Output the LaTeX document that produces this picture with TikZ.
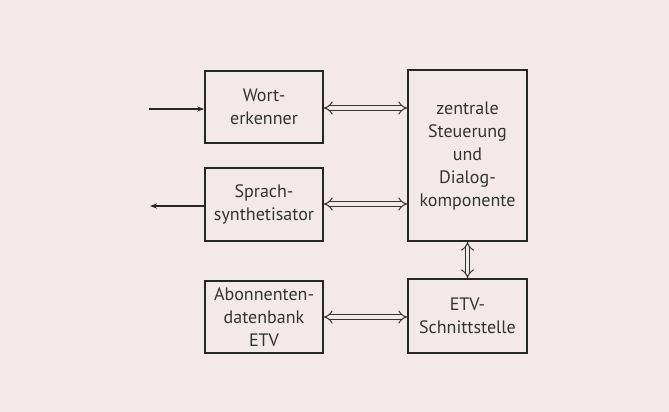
\documentclass[tikz,border=0pt]{standalone}
\usepackage{fontspec}
\setsansfont[Ligatures=NoCommon]{PT Sans}
\usetikzlibrary{arrows.meta}
\begin{document}
\begin{tikzpicture}[x=1pt,y=-1pt,
  box/.style={draw=black!85,line width=1.6pt,inner sep=0pt,font=\sffamily\fontsize{18}{23}\selectfont,text=black!80,align=center},
  dbl/.style={double=bgc,double distance=3.6pt,line width=1pt,draw=black!80,{Implies[length=9pt,width=16pt]}-{Implies[length=9pt,width=16pt]}},
  sgl/.style={draw=black!85,line width=1.1pt,-{Stealth[length=7pt,width=5pt]}}]
\definecolor{bgc}{HTML}{F3E9EB}
\fill[bgc] (0,0) rectangle (669,412);
\useasboundingbox (0,0) rectangle (669,412);
\node[box,minimum width=118pt,minimum height=72pt] (we) at (264,107) {Wort-\\erkenner};
\node[box,minimum width=118pt,minimum height=73pt] (ss) at (264,204.5) {Sprach-\\synthetisator};
\node[box,minimum width=118pt,minimum height=72pt] (ab) at (264,317) {Abonnenten-\\datenbank\\ETV};
\node[box,minimum width=119pt,minimum height=171pt] (zs) at (467.5,155.5) {zentrale\\Steuerung\\und\\Dialog-\\komponente};
\node[box,minimum width=119pt,minimum height=74pt] (etv) at (467.5,316) {ETV-\\Schnittstelle};
\coordinate (in) at (149,109);
\coordinate (out) at (150,206);
\draw[sgl] (in) -- (we.west |- in);
\draw[sgl] (ss.west |- out) -- (out);
\draw[dbl] (we.east |- 0,108) -- (zs.west |- 0,108);
\draw[dbl] (ss.east |- 0,204) -- (zs.west |- 0,204);
\draw[dbl] (ab.east |- 0,317) -- (etv.west |- 0,317);
\draw[dbl] (zs.south) -- (etv.north);
\end{tikzpicture}
\end{document}
